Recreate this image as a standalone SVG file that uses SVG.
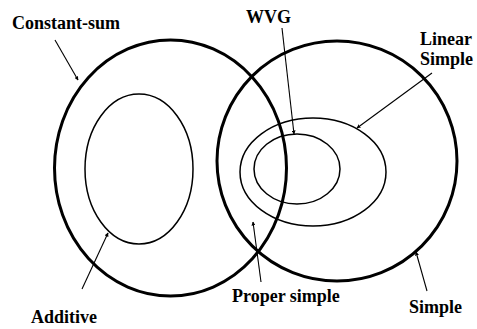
<svg xmlns="http://www.w3.org/2000/svg" width="477" height="329" viewBox="0 0 477 329">
<style>
.big{fill:none;stroke:#000;stroke-width:3}
.in{fill:none;stroke:#000;stroke-width:1.5}
.ln{fill:none;stroke:#000;stroke-width:1.1}
.t{font-family:'Liberation Serif','DejaVu Serif',serif;font-weight:700;font-size:18px;fill:#000}
</style>
<defs>
<marker id="ah" viewBox="0 0 8 8" refX="7" refY="4" markerWidth="4" markerHeight="4" orient="auto" markerUnits="userSpaceOnUse">
<path d="M0,0 L8,4 L0,8 Z" fill="#000"/>
</marker>
</defs>
<rect width="477" height="329" fill="#fff"/>
<g id="constant-sum"><ellipse class="big" cx="170.5" cy="168" rx="116" ry="128"/><text class="t" x="12" y="29">Constant-sum</text></g>
<g id="additive"><ellipse class="in" cx="139" cy="169" rx="54" ry="75"/><text class="t" x="31" y="323">Additive</text></g>
<g id="simple"><ellipse class="big" cx="337" cy="161" rx="120" ry="120"/><text class="t" x="409" y="313">Simple</text></g>
<g id="linear-simple"><ellipse class="in" cx="313" cy="172" rx="73" ry="54"/><text class="t" x="420" y="45">Linear</text><text class="t" x="420" y="65">Simple</text></g>
<g id="wvg"><ellipse class="in" cx="297" cy="169" rx="43" ry="35"/><text class="t" x="246" y="23">WVG</text></g>
<g id="proper-simple"><text class="t" x="232" y="302">Proper simple</text></g>
<g id="connectors">
<line class="ln" x1="55" y1="40" x2="78" y2="80" marker-end="url(#ah)"/>
<line class="ln" x1="282" y1="28" x2="294" y2="134" marker-end="url(#ah)"/>
<line class="ln" x1="432" y1="73" x2="357" y2="128" marker-end="url(#ah)"/>
<line class="ln" x1="82" y1="289" x2="108" y2="233" marker-end="url(#ah)"/>
<line class="ln" x1="261" y1="282" x2="253" y2="222" marker-end="url(#ah)"/>
<line class="ln" x1="427" y1="291" x2="416" y2="252" marker-end="url(#ah)"/>
</g>
</svg>
